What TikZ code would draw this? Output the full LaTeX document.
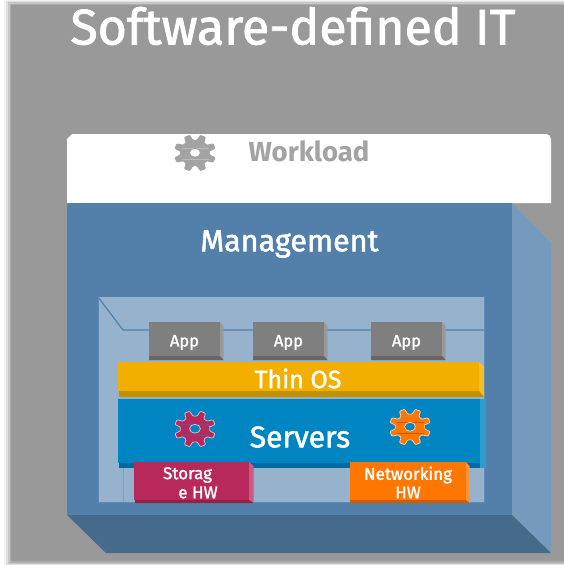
\documentclass[tikz,border=0pt]{standalone}
\usepackage{fontspec}
\setmainfont{Fira Sans}
\definecolor{bggray}{HTML}{999999}
\definecolor{mgmt}{HTML}{5280AB}
\definecolor{mgmtside}{HTML}{769ABE}
\definecolor{mgmtbot}{HTML}{456A8A}
\definecolor{panel}{HTML}{96B2CC}
\definecolor{panelline}{HTML}{5082AF}
\definecolor{appc}{HTML}{7F7F7F}
\definecolor{appside}{HTML}{999999}
\definecolor{appbot}{HTML}{666666}
\definecolor{osc}{HTML}{F2AF00}
\definecolor{osside}{HTML}{F5BE2E}
\definecolor{osbot}{HTML}{C29100}
\definecolor{srv}{HTML}{0085C3}
\definecolor{srvside}{HTML}{2E9BD1}
\definecolor{srvbot}{HTML}{006A9E}
\definecolor{sto}{HTML}{B7295A}
\definecolor{stoside}{HTML}{CB5B83}
\definecolor{stobot}{HTML}{922148}
\definecolor{net}{HTML}{FF7700}
\definecolor{netside}{HTML}{FF9633}
\definecolor{netbot}{HTML}{CC5F00}
\definecolor{wlgray}{HTML}{A3A3A3}
\newfontface\medface[FakeBold=1.6]{Fira Sans}
\tikzset{
  x=1pt,y=-1pt,
  lbl/.style={inner sep=0pt,text=white,align=center,font=\medface\fontsize{17}{19}\selectfont},
  big/.style={inner sep=0pt,text=white},
}
% #1 fill, #2 stroke, #3 x, #4 y, #5 seam colour, #6 hole colour
\newcommand{\gearshape}[6]{%
  \begin{scope}[shift={(#3,#4)},yscale=0.88]
  \fill[#1,draw=#2,line width=0.7pt,rounded corners=0.9pt]
    (22.5-31:14.8)
    \foreach \a in {22.5,67.5,...,337.5}{
      -- (\a-14:14.8) -- (\a-8:20.8) -- (\a+8:20.8) -- (\a+14:14.8)
    } -- cycle;
  \draw[#5,line width=0.3pt] (-13.5,-5.5) -- (13.5,-5.5) (-13.5,7.5) -- (13.5,7.5);
  \fill[#6,draw=#2,line width=0.7pt] (0,-0.3) ellipse[x radius=5.4,y radius=5];
  \end{scope}}
\begin{document}
\begin{tikzpicture}
\useasboundingbox (0,0) rectangle (564,565);
\fill[white] (0,0) rectangle (564,565);
% soft-edged grey backdrop
\fill[bggray!12] (4,0) rectangle (564,565);
\fill[bggray!30] (6,1) rectangle (564,565);
\fill[bggray!55] (8,2) rectangle (564,564);
\fill[bggray!80] (9.5,3.5) rectangle (564,563);
\fill[bggray] (11,5) rectangle (564,561);
% workload card
\fill[white] (72,134) -- (546,134) arc[start angle=-90,end angle=0,radius=5] -- (551,203) -- (67,203) -- (67,139) -- cycle;
% management box
\fill[mgmt] (67,203) rectangle (512,515);
\fill[mgmtside] (512,203) -- (551,243) -- (551,553) -- (512,515) -- cycle;
\fill[mgmtbot] (67,515) -- (512,515) -- (551,553) -- (106,553) -- cycle;
% inner panel
\fill[panel] (98,296) rectangle (484,502);
\draw[panelline,line width=1.2pt] (98,296.5) -- (484,296.5);
\draw[panelline,line width=1.2pt] (98,297) -- (123,330) -- (484,330);
\draw[panelline!80!panel,line width=0.7pt] (98,296) -- (98,502) -- (484,502) -- (484,296);
\draw[panelline!35!panel,line width=0.5pt] (123,468) -- (123,502);
% apps
\foreach \ax/\nm in {149/a,253/b,371/c}{
  \fill[appside] (\ax+71,322) -- (\ax+74.5,326) -- (\ax+74.5,360) -- (\ax+71,356) -- cycle;
  \fill[appbot] (\ax,356) -- (\ax+71,356) -- (\ax+74.5,360) -- (\ax,360) -- cycle;
  \fill[appc] (\ax,322) rectangle (\ax+71,356);
  \node[lbl,font=\medface\fontsize{16.5}{19}\selectfont] (app\nm) at (\ax+35.5,342.5) {App};
}
% thin os
\fill[osside] (479,362) -- (484,367) -- (484,397) -- (479,391) -- cycle;
\fill[osbot] (119,391) -- (479,391) -- (484,397) -- (119,397) -- cycle;
\fill[osc] (118,362) rectangle (479,391);
\node[big,font=\medface\fontsize{25}{28}\selectfont] (os) at (298,378.5) {Thin OS};
% servers
\fill[srvside] (480,399) rectangle (486,468);
\fill[srvbot] (119,463) rectangle (480,468);
\fill[srv] (118,399) rectangle (480,463);
\node[big,font=\medface\fontsize{30}{34}\selectfont] (servers) at (300,437) {Servers};
% storage
\fill[stoside] (249,462) -- (253.5,466) -- (253.5,503) -- (249,500) -- cycle;
\fill[stobot] (135,500) -- (249,500) -- (253.5,503) -- (135,503) -- cycle;
\fill[sto] (134,462) rectangle (249,500);
\node[lbl] (storage1) at (187.5,475) {Storag};
\node[lbl] (storage2) at (198,492.5) {e HW};
% networking
\fill[netside] (466,462) -- (469.5,466) -- (469.5,503) -- (466,500) -- cycle;
\fill[netbot] (350,500) -- (466,500) -- (469.5,503) -- (350,503) -- cycle;
\fill[net] (350,462) rectangle (466,500);
\node[lbl] (net1) at (408,475) {Networking};
\node[lbl] (net2) at (408,492.5) {HW};
% gears
\gearshape{wlgray}{wlgray}{195}{153}{white!25!wlgray}{white}
\gearshape{sto}{white!70!sto}{195}{429}{srv!50!sto}{srv}
\gearshape{net}{white!70!net}{410}{427}{black!25!net}{srv}
% texts
\node[big,font=\medface\fontsize{50}{55}\selectfont] (title) at (293,26) {Software-defined IT};
\node[inner sep=0pt,text=wlgray,font=\bfseries\fontsize{27.5}{31}\selectfont] (workload) at (309,151) {Workload};
\node[big,font=\medface\fontsize{30.5}{35}\selectfont] (management) at (289.5,244) {Management};
\end{tikzpicture}
\end{document}
